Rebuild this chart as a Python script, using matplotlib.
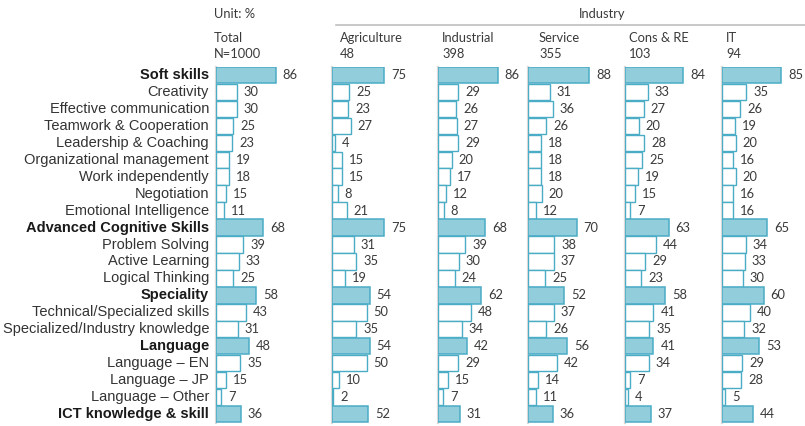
import matplotlib
matplotlib.use('agg')
import matplotlib.pyplot as plt

W, H = 805, 426

skills = ["Soft skills", "Creativity", "Effective communication", "Teamwork & Cooperation",
          "Leadership & Coaching", "Organizational management", "Work independently",
          "Negotiation", "Emotional Intelligence", "Advanced Cognitive Skills",
          "Problem Solving", "Active Learning", "Logical Thinking", "Speciality",
          "Technical/Specialized skills", "Specialized/Industry knowledge", "Language",
          "Language \u2013 EN", "Language \u2013 JP", "Language \u2013 Other",
          "ICT knowledge & skill"]
major = [0, 9, 13, 16, 20]

groups = ["Total", "Agriculture", "Industrial", "Service", "Cons & RE", "IT"]
counts = ["N=1000", "48", "398", "355", "103", "94"]

total = [86, 30, 30, 25, 23, 19, 18, 15, 11, 68, 39, 33, 25, 58, 43, 31, 48, 35, 15, 7, 36]
agriculture = [75, 25, 23, 27, 4, 15, 15, 8, 21, 75, 31, 35, 19, 54, 50, 35, 54, 50, 10, 2, 52]
industrial = [86, 29, 26, 27, 29, 20, 17, 12, 8, 68, 39, 30, 24, 62, 48, 34, 42, 29, 15, 7, 31]
service = [88, 31, 36, 26, 18, 18, 18, 20, 12, 70, 38, 37, 25, 52, 37, 26, 56, 42, 14, 11, 36]
cons_re = [84, 33, 27, 20, 28, 25, 19, 15, 7, 63, 44, 29, 23, 58, 41, 35, 41, 34, 7, 4, 37]
it = [85, 35, 26, 19, 20, 16, 20, 16, 16, 65, 34, 33, 30, 60, 40, 32, 53, 29, 28, 5, 44]
series = [total, agriculture, industrial, service, cons_re, it]

# layout in pixels
panel_x = [216, 332, 438, 528, 625, 722]
header_x = [214, 340, 442, 539, 629, 726]
px_per_unit = 0.695
panel_w = 100
top, bottom = 66.5, 422.5

FILL = "#92CDDC"
EDGE = "#4BACC6"
TXT = "#3a3a3a"
NUMFONT = "Lato"
NUMSIZE = 9.3

fig = plt.figure(figsize=(W / 100, H / 100), dpi=100)

for k, vals in enumerate(series):
    ax = fig.add_axes([panel_x[k] / W, 1 - bottom / H, panel_w / W, (bottom - top) / H])
    ax.set_xlim(0, panel_w / px_per_unit)
    ax.set_ylim(len(skills) - 0.5, -0.5)
    for i, v in enumerate(vals):
        is_major = i in major
        ax.barh(i, v, height=0.97, left=0,
                color=FILL if is_major else "white",
                edgecolor=EDGE, linewidth=1.1 if is_major else 1.0, zorder=3)
        ax.annotate(str(v), (v, i), xytext=(5, 0), textcoords="offset points",
                    va="center", ha="left", fontsize=NUMSIZE, color=TXT,
                    family=NUMFONT)
    for s in ["top", "right", "bottom"]:
        ax.spines[s].set_visible(False)
    ax.spines["left"].set_color("#D9D9D9")
    ax.spines["left"].set_linewidth(1.6)
    ax.set_xticks([])
    ax.set_yticks([])
    ax.patch.set_alpha(0)
    if k == 0:
        for i, lab in enumerate(skills):
            ax.annotate(lab, (0, i), xytext=(-5, 0), textcoords="offset points",
                        ha="right", va="center", fontsize=10.5,
                        family="Liberation Sans",
                        color="#1a1a1a" if i in major else "#333333",
                        fontweight="bold" if i in major else "normal")

    fig.text(header_x[k] / W, 1 - 38 / H, groups[k], ha="left", va="center",
             fontsize=NUMSIZE, family=NUMFONT, color=TXT)
    fig.text(header_x[k] / W, 1 - 54 / H, counts[k], ha="left", va="center",
             fontsize=NUMSIZE, family=NUMFONT, color=TXT)

fig.text(214 / W, 1 - 14 / H, "Unit: %", ha="left", va="center",
         fontsize=NUMSIZE, family=NUMFONT, color=TXT)
fig.text(602 / W, 1 - 14 / H, "Industry", ha="center", va="center",
         fontsize=NUMSIZE, family=NUMFONT, color=TXT)
fig.add_artist(plt.Line2D([336 / W, 1.0], [1 - 25 / H, 1 - 25 / H],
                          color="#BFBFBF", linewidth=1.2))

fig.savefig("out.png", dpi=100)
